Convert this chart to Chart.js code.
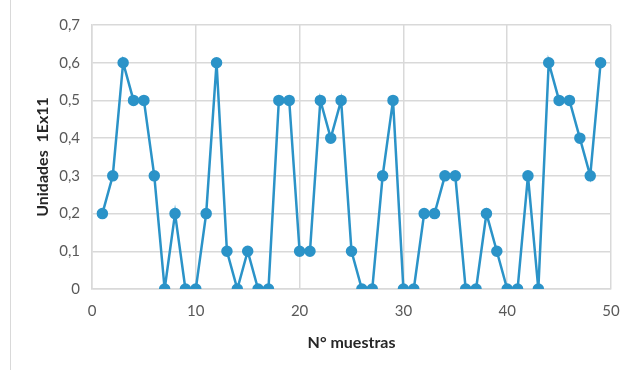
<!DOCTYPE html>
<html>
<head>
<meta charset="utf-8">
<script src="https://cdn.jsdelivr.net/npm/chart.js@4"></script>
<style>
    html, body { margin: 0; padding: 0; background: #fff; }
    #wrap { position: relative; width: 635px; height: 370px; }
    #frame { position: absolute; left: 10px; top: 0; width: 1px; height: 370px; background: #d9d9d9; }
</style>
</head>
<body>
<div id="wrap">
    <div id="frame"></div>
    <canvas id="muestrasChart" width="635" height="370"></canvas>
</div>
<script>
// Datos
const muestras = [1, 2, 3, 4, 5, 6, 7, 8, 9, 10,
    11, 12, 13, 14, 15, 16, 17, 18, 19, 20,
    21, 22, 23, 24, 25, 26, 27, 28, 29, 30,
    31, 32, 33, 34, 35, 36, 37, 38, 39, 40,
    41, 42, 43, 44, 45, 46, 47, 48, 49];
const unidades = [0.2, 0.3, 0.6, 0.5, 0.5, 0.3, 0, 0.2, 0, 0,
    0.2, 0.6, 0.1, 0, 0.1, 0, 0, 0.5, 0.5, 0.1,
    0.1, 0.5, 0.4, 0.5, 0.1, 0, 0, 0.3, 0.5, 0,
    0, 0.2, 0.2, 0.3, 0.3, 0, 0, 0.2, 0.1, 0,
    0, 0.3, 0, 0.6, 0.5, 0.5, 0.4, 0.3, 0.6];
const xTicks = [0, 10, 20, 30, 40, 50];
const yTicks = [0, 0.1, 0.2, 0.3, 0.4, 0.5, 0.6, 0.7];

const lineColor = '#2b93c8';
const gridColor = '#d9d9d9';

const ctx = document.getElementById('muestrasChart').getContext('2d');

const muestrasChart = new Chart(ctx, {
    type: 'scatter',
    data: {
        datasets: [{
            label: 'Unidades',
            data: muestras.map((m, i) => ({ x: m, y: unidades[i] })),
            showLine: true,
            borderColor: lineColor,
            backgroundColor: lineColor,
            borderWidth: 2.5,
            pointRadius: 4.5,
            pointHoverRadius: 4.5,
            tension: 0,
        }]
    },
    options: {
        responsive: false,
        animation: false,
        layout: {
            padding: { left: 33, right: 24, top: 25, bottom: 18 }
        },
        plugins: {
            legend: { display: false },
            tooltip: { enabled: false }
        },
        scales: {
            x: {
                type: 'linear',
                min: xTicks[0],
                max: xTicks[xTicks.length - 1],
                afterBuildTicks: (axis) => { axis.ticks = xTicks.map(v => ({ value: v })); },
                afterFit: (axis) => { axis.height = 63; },
                grid: { color: gridColor, lineWidth: 1.5, drawTicks: false },
                border: { color: gridColor, width: 1.5 },
                ticks: {
                    color: '#595959',
                    font: { family: 'Lato', size: 15 },
                    padding: 13
                },
                title: {
                    display: true,
                    text: 'N° muestras',
                    color: '#262626',
                    font: { family: 'Lato', size: 16, weight: 'bold' },
                    padding: { top: 14, bottom: 0 }
                }
            },
            y: {
                min: yTicks[0],
                max: yTicks[yTicks.length - 1],
                afterBuildTicks: (axis) => { axis.ticks = yTicks.map(v => ({ value: v })); },
                afterFit: (axis) => { axis.width = 59; },
                grid: { color: gridColor, lineWidth: 1.5, drawTicks: false },
                border: { color: gridColor, width: 1.5 },
                ticks: {
                    color: '#595959',
                    font: { family: 'Lato', size: 15 },
                    padding: 12,
                    callback: (v) => v === 0 ? '0' : v.toFixed(1).replace('.', ',')
                },
                title: {
                    display: true,
                    text: 'Unidades  1Ex11',
                    color: '#262626',
                    font: { family: 'Lato', size: 16, weight: 'bold' },
                    padding: { top: 0, bottom: 0 }
                }
            }
        }
    }
});
</script>
</body>
</html>
